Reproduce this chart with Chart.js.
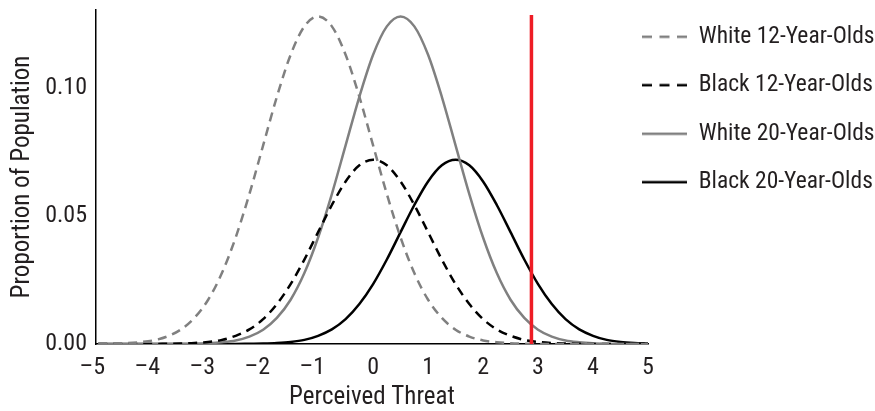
<!DOCTYPE html>
<html>
<head>
<meta charset="utf-8">
<script src="https://cdn.jsdelivr.net/npm/chart.js@4/dist/chart.umd.min.js"></script>
<style>
html,body{margin:0;padding:0;background:#fff;}
canvas{display:block;}
</style>
</head>
<body>
<canvas id="c" width="875" height="411"></canvas>
<script>
// ---- data ----
const xs = [-5,-4.75,-4.5,-4.25,-4,-3.75,-3.5,-3.25,-3,-2.75,-2.5,-2.25,-2,-1.75,-1.5,-1.25,-1,-0.75,-0.5,-0.25,0,0.25,0.5,0.75,1,1.25,1.5,1.75,2,2.25,2.5,2.75,3,3.25,3.5,3.75,4,4.25,4.5,4.75,5];
const white12 = [0.0000,0.0001,0.0003,0.0007,0.0014,0.0029,0.0056,0.0102,0.0173,0.0277,0.0416,0.0586,0.0776,0.0966,0.1130,0.1241,0.1280,0.1241,0.1130,0.0966,0.0776,0.0586,0.0416,0.0277,0.0173,0.0102,0.0056,0.0029,0.0014,0.0007,0.0003,0.0001,0,0,0,0,0,0,0,0,0];
const black12 = [0,0,0,0,0,0.0001,0.0002,0.0004,0.0008,0.0016,0.0032,0.0057,0.0097,0.0156,0.0234,0.0330,0.0437,0.0543,0.0635,0.0698,0.0720,0.0698,0.0635,0.0543,0.0437,0.0330,0.0234,0.0156,0.0097,0.0057,0.0032,0.0016,0.0008,0.0004,0.0002,0.0001,0,0,0,0,0];
const white20 = [0,0,0,0,0,0,0,0.0001,0.0003,0.0007,0.0014,0.0029,0.0056,0.0102,0.0173,0.0277,0.0416,0.0586,0.0776,0.0966,0.1130,0.1241,0.1280,0.1241,0.1130,0.0966,0.0776,0.0586,0.0416,0.0277,0.0173,0.0102,0.0056,0.0029,0.0014,0.0007,0.0003,0.0001,0,0,0];
const black20 = [0,0,0,0,0,0,0,0,0,0,0,0.0001,0.0002,0.0004,0.0008,0.0016,0.0032,0.0057,0.0097,0.0156,0.0234,0.0330,0.0437,0.0543,0.0635,0.0698,0.0720,0.0698,0.0635,0.0543,0.0437,0.0330,0.0234,0.0156,0.0097,0.0057,0.0032,0.0016,0.0008,0.0004,0.0002];
const seriesNames = ['White 12-Year-Olds','Black 12-Year-Olds','White 20-Year-Olds','Black 20-Year-Olds'];
const cutoffX = [2.88, 2.88];
const cutoffY = [0, 0.1285];
const xTicks = [-5,-4,-3,-2,-1,0,1,2,3,4,5];
const yTicks = [0, 0.05, 0.10];

// ---- styling ----
const FONT = "'Liberation Sans Narrow','Arial Narrow','Roboto Condensed','DejaVu Sans Condensed',sans-serif";
const TEXT = '#231f20';
const GREY = '#808080';
const LEGEND_LINE_X = 642;
const SAMPLE_W = 45;

Chart.defaults.font.family = FONT;
Chart.defaults.color = TEXT;

const pts = (ys) => xs.map((x, i) => ({x, y: ys[i]}));

// legend line samples (Chart.js does not dash point-style legend lines)
function sample(color, dash) {
  const c = document.createElement('canvas');
  c.width = SAMPLE_W; c.height = 4;
  const g = c.getContext('2d');
  g.strokeStyle = color; g.lineWidth = 2.5; g.setLineDash(dash);
  g.beginPath(); g.moveTo(0, 2); g.lineTo(SAMPLE_W, 2); g.stroke();
  return c;
}

const curveBase = {pointRadius: 0, borderWidth: 2.5, fill: false, cubicInterpolationMode: 'monotone', order: 1};

const legendPlace = {
  id: 'legendPlace',
  beforeLayout(chart) {
    const lg = chart.legend;
    if (lg && !lg._patched) {
      const orig = lg.fit;
      lg.fit = function () { orig.call(this); this.width = 0; };
      lg._patched = true;
    }
  },
  afterLayout(chart) {
    const lg = chart.legend;
    if (!lg) return;
    const pad = lg.options.labels.padding;
    lg.left = LEGEND_LINE_X - pad;
    lg.right = chart.width;
    lg.width = lg.right - lg.left;
    lg.top = 0;
    lg.bottom = chart.height;
    lg.height = chart.height;
  }
};

new Chart(document.getElementById('c'), {
  type: 'line',
  data: {
    datasets: [
      Object.assign({}, curveBase, {label: seriesNames[0], data: pts(white12), borderColor: GREY, borderDash: [9, 6], pointStyle: sample(GREY, [10, 7.5])}),
      Object.assign({}, curveBase, {label: seriesNames[1], data: pts(black12), borderColor: '#000000', borderDash: [9, 6], pointStyle: sample('#000000', [10, 7.5])}),
      Object.assign({}, curveBase, {label: seriesNames[2], data: pts(white20), borderColor: GREY, pointStyle: sample(GREY, [])}),
      Object.assign({}, curveBase, {label: seriesNames[3], data: pts(black20), borderColor: '#000000', pointStyle: sample('#000000', [])}),
      {label: 'cutoff', data: cutoffX.map((x, i) => ({x, y: cutoffY[i]})), borderColor: '#ee1c25', borderWidth: 3.5, pointRadius: 0, fill: false, order: 0}
    ]
  },
  options: {
    responsive: false,
    animation: false,
    devicePixelRatio: 1,
    layout: {padding: {left: 0, right: 227, top: 10, bottom: 0}},
    plugins: {
      tooltip: {enabled: false},
      legend: {
        position: 'right',
        align: 'start',
        labels: {
          usePointStyle: true,
          pointStyleWidth: SAMPLE_W,
          padding: 25,
          font: {size: 23.5, family: FONT},
          color: TEXT,
          filter: (item) => item.text !== 'cutoff'
        }
      }
    },
    scales: {
      x: {
        type: 'linear',
        min: -5.04,
        max: 5,
        grid: {display: false, drawTicks: false},
        border: {display: true, color: '#000', width: 1.5},
        ticks: {
          font: {size: 24, family: FONT},
          color: TEXT,
          padding: 10,
          maxRotation: 0,
          callback: (v) => v < 0 ? '\u2013' + Math.abs(v) + '\u2007' : String(v)
        },
        afterBuildTicks: (ax) => { ax.ticks = xTicks.map(v => ({value: v})); },
        afterFit: (s) => { s.height = 67; s.paddingLeft = 0; s.paddingRight = 0; },
        title: {display: true, text: 'Perceived Threat', font: {size: 25, family: FONT, lineHeight: 1}, color: TEXT, padding: {top: 0, bottom: 1}}
      },
      y: {
        min: 0,
        max: 0.1305,
        grid: {display: false, drawTicks: false},
        border: {display: true, color: '#000', width: 1.5},
        ticks: {
          font: {size: 24, family: FONT},
          color: TEXT,
          padding: 9,
          callback: (v) => v.toFixed(2)
        },
        afterBuildTicks: (ax) => { ax.ticks = yTicks.map(v => ({value: v})); },
        afterFit: (s) => { s.width = 96; s.paddingTop = 0; s.paddingBottom = 0; },
        title: {display: true, text: 'Proportion of Population', font: {size: 25, family: FONT, lineHeight: 1.2}, color: TEXT, padding: {top: 8, bottom: 0}}
      }
    }
  },
  plugins: [legendPlace]
});
</script>
</body>
</html>
